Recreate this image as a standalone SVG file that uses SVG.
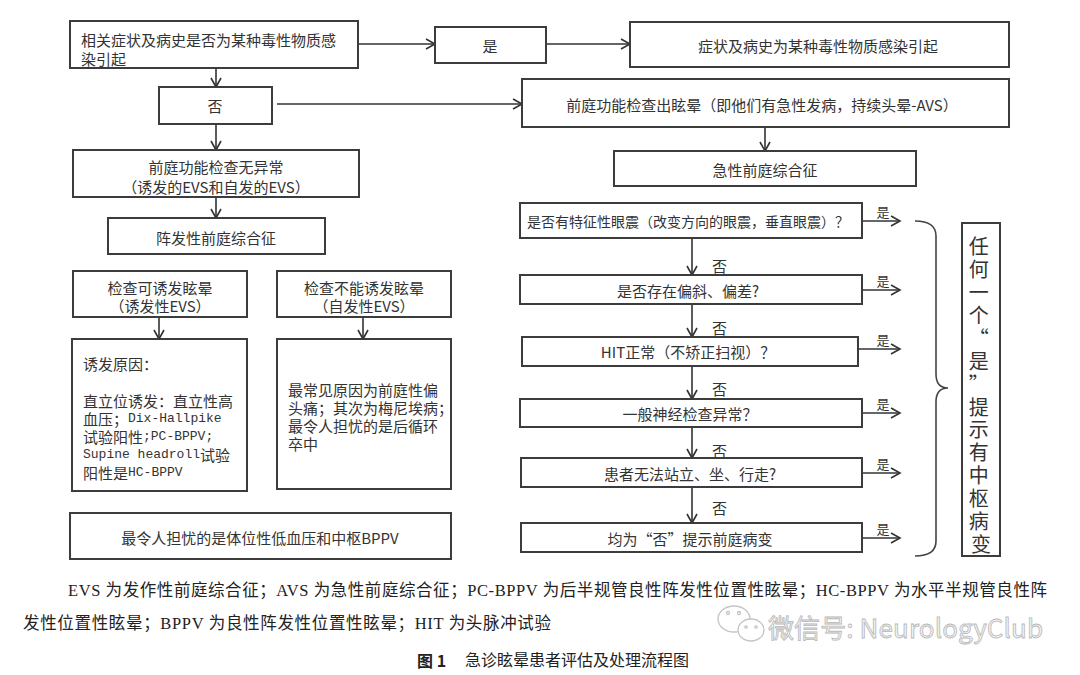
<svg xmlns="http://www.w3.org/2000/svg" width="1080" height="675" viewBox="0 0 1080 675">
<defs>
<style>
.box{fill:#fff;stroke:#3c3c3c;stroke-width:2}
.t{font-family:"Noto Sans CJK SC","Liberation Sans",sans-serif;font-size:15px;fill:#333;dominant-baseline:central}
.c{text-anchor:middle}
.mono{font-family:"Liberation Mono","Noto Sans CJK SC",monospace;font-size:13px}
.ln{stroke:#333;stroke-width:1.6;fill:none;marker-end:url(#ah)}
.cap{font-family:"Liberation Serif","Noto Sans CJK SC",serif;font-size:16.5px;fill:#222;dominant-baseline:central}
</style>
<marker id="ah" markerUnits="userSpaceOnUse" markerWidth="12" markerHeight="12" refX="10" refY="6" orient="auto">
<path d="M1,1 L10,6 L1,11" fill="none" stroke="#333" stroke-width="1.6"/>
</marker>
</defs>
<rect width="1080" height="675" fill="#fff"/>

<g id="connectors">
<path class="ln" d="M358,44 H435"/>
<path class="ln" d="M546,44 H630"/>
<path class="ln" d="M216,68 V87"/>
<path class="ln" d="M277,104 H522"/>
<path class="ln" d="M216,124 V150"/>
<path class="ln" d="M765,127 V151"/>
<path class="ln" d="M216,197 V218"/>
<path class="ln" d="M159,317 V339"/>
<path class="ln" d="M363,317 V339"/>
<path class="ln" d="M692,238 V275"/>
<path class="ln" d="M692,304 V337"/>
<path class="ln" d="M692,366 V399"/>
<path class="ln" d="M692,427 V458"/>
<path class="ln" d="M692,487 V523"/>
<path class="ln" d="M862,221 H900"/>
<path class="ln" d="M862,290 H900"/>
<path class="ln" d="M858,349 H900"/>
<path class="ln" d="M862,413 H900"/>
<path class="ln" d="M862,473 H900"/>
<path class="ln" d="M862,538 H900"/>
<g class="t" style="font-size:15px">
<text x="712" y="265">否</text>
<text x="712" y="327">否</text>
<text x="712" y="388">否</text>
<text x="712" y="450">否</text>
<text x="712" y="507">否</text>
</g>
<g class="t c" style="font-size:13px">
<text x="883" y="211">是</text>
<text x="883" y="280">是</text>
<text x="883" y="339">是</text>
<text x="883" y="403">是</text>
<text x="883" y="463">是</text>
<text x="883" y="528">是</text>
</g>
<path d="M915,221 Q936,221 936,236 L936,374 Q936,388 948,388 Q936,388 936,402 L936,541 Q936,556 915,556" fill="none" stroke="#444" stroke-width="1.6"/>
</g>

<g id="n_toxic_q">
<rect class="box" x="70" y="21" width="288" height="47"/>
<text class="t" x="81" y="39">相关症状及病史是否为某种毒性物质感</text>
<text class="t" x="81" y="58">染引起</text>
</g>
<g id="n_yes">
<rect class="box" x="435" y="27" width="111" height="36"/>
<text class="t c" x="490" y="45">是</text>
</g>
<g id="n_toxic">
<rect class="box" x="630" y="22" width="379" height="45"/>
<text class="t c" x="818" y="45">症状及病史为某种毒性物质感染引起</text>
</g>
<g id="n_no">
<rect class="box" x="159" y="87" width="113" height="37"/>
<text class="t c" x="215" y="105">否</text>
</g>
<g id="n_avs">
<rect class="box" x="522" y="79" width="487" height="48"/>
<text class="t c" x="762" y="104">前庭功能检查出眩晕（即他们有急性发病，持续头晕-AVS）</text>
</g>
<g id="n_normal">
<rect class="box" x="73" y="150" width="286" height="47"/>
<text class="t c" x="216" y="166">前庭功能检查无异常</text>
<text class="t c" x="216" y="186">（诱发的EVS和自发的EVS）</text>
</g>
<g id="n_acute">
<rect class="box" x="614" y="151" width="302" height="35"/>
<text class="t c" x="765" y="169">急性前庭综合征</text>
</g>
<g id="n_episodic">
<rect class="box" x="108" y="218" width="217" height="36"/>
<text class="t c" x="216" y="237">阵发性前庭综合征</text>
</g>
<g id="n_triggered">
<rect class="box" x="73" y="271" width="174" height="46"/>
<text class="t c" x="160" y="287">检查可诱发眩晕</text>
<text class="t c" x="160" y="305">（诱发性EVS）</text>
</g>
<g id="n_spont">
<rect class="box" x="277" y="271" width="174" height="46"/>
<text class="t c" x="364" y="287">检查不能诱发眩晕</text>
<text class="t c" x="364" y="305">（自发性EVS）</text>
</g>
<g id="n_trig_cause">
<rect class="box" x="72" y="339" width="175" height="152"/>
<text class="t" x="83" y="363">诱发原因：</text>
<text class="t" x="83" y="400">直立位诱发：直立性高</text>
<text class="t" x="83" y="418">血压；<tspan class="mono">Dix-Hallpike</tspan></text>
<text class="t" x="83" y="436">试验阳性<tspan class="mono">;PC-BPPV;</tspan></text>
<text class="t" x="83" y="454"><tspan class="mono">Supine headroll</tspan>试验</text>
<text class="t" x="83" y="472">阳性是<tspan class="mono">HC-BPPV</tspan></text>
</g>
<g id="n_spont_cause">
<rect class="box" x="277" y="339" width="174" height="150"/>
<text class="t" x="288" y="389">最常见原因为前庭性偏</text>
<text class="t" x="288" y="407">头痛；其次为梅尼埃病；</text>
<text class="t" x="288" y="425">最令人担忧的是后循环</text>
<text class="t" x="288" y="443">卒中</text>
</g>
<g id="n_worry">
<rect class="box" x="70" y="513" width="381" height="46"/>
<text class="t c" x="260" y="537">最令人担忧的是体位性低血压和中枢BPPV</text>
</g>
<g id="q1">
<rect class="box" x="520" y="203" width="342" height="35"/>
<text class="t" x="527" y="221" style="font-size:14px">是否有特征性眼震（改变方向的眼震，垂直眼震）？</text>
</g>
<g id="q2">
<rect class="box" x="520" y="275" width="342" height="29"/>
<text class="t c" x="688" y="290">是否存在偏斜、偏差?</text>
</g>
<g id="q3">
<rect class="box" x="522" y="337" width="336" height="29"/>
<text class="t c" x="688" y="351">HIT正常（不矫正扫视）？</text>
</g>
<g id="q4">
<rect class="box" x="520" y="399" width="342" height="28"/>
<text class="t c" x="690" y="413">一般神经检查异常？</text>
</g>
<g id="q5">
<rect class="box" x="521" y="458" width="341" height="29"/>
<text class="t c" x="690" y="473">患者无法站立、坐、行走?</text>
</g>
<g id="q6">
<rect class="box" x="521" y="523" width="341" height="29"/>
<text class="t c" x="690" y="538">均为“否”提示前庭病变</text>
</g>
<g id="n_central">
<rect class="box" x="962" y="223" width="38" height="333"/>
<text class="t c" style="font-size:20px">
<tspan x="981" y="245">任</tspan>
<tspan x="981" y="268">何</tspan>
<tspan x="981" y="291">一</tspan>
<tspan x="981" y="314">个</tspan>
<tspan x="981" y="337">“</tspan>
<tspan x="981" y="360">是</tspan>
<tspan x="981" y="383">”</tspan>
<tspan x="981" y="406">提</tspan>
<tspan x="981" y="428">示</tspan>
<tspan x="981" y="451">有</tspan>
<tspan x="981" y="474">中</tspan>
<tspan x="981" y="497">枢</tspan>
<tspan x="981" y="520">病</tspan>
<tspan x="981" y="543">变</tspan>
</text>
</g>

<g id="caption">
<text class="cap" x="68" y="590" textLength="979" lengthAdjust="spacing">EVS 为发作性前庭综合征；AVS 为急性前庭综合征；PC-BPPV 为后半规管良性阵发性位置性眩晕；HC-BPPV 为水平半规管良性阵</text>
<text class="cap" x="23" y="623" textLength="528" lengthAdjust="spacing">发性位置性眩晕；BPPV 为良性阵发性位置性眩晕；HIT 为头脉冲试验</text>
<text class="cap" x="417" y="660" style="font-size:16px"><tspan font-weight="bold" font-family="Noto Sans CJK SC, sans-serif">图 1</tspan><tspan x="465">急诊眩晕患者评估及处理流程图</tspan></text>
</g>
<g id="watermark" fill="none" stroke="#c4c4c4" stroke-width="1.3">
<ellipse cx="734" cy="619" rx="16" ry="13"/>
<ellipse cx="751" cy="630" rx="13" ry="11" fill="#fff"/>
<circle cx="728" cy="613" r="1.5"/>
<circle cx="739" cy="613" r="1.5"/>
<circle cx="746" cy="627" r="1.2"/>
<circle cx="756" cy="627" r="1.2"/>
<text x="768" y="626" textLength="275" lengthAdjust="spacing" style="font-family:'Noto Sans CJK SC','Liberation Sans',sans-serif;font-size:26px;dominant-baseline:central;fill:#f2f2f2;stroke:#b8b8b8;stroke-width:0.8">微信号: NeurologyClub</text>
</g>
</svg>
